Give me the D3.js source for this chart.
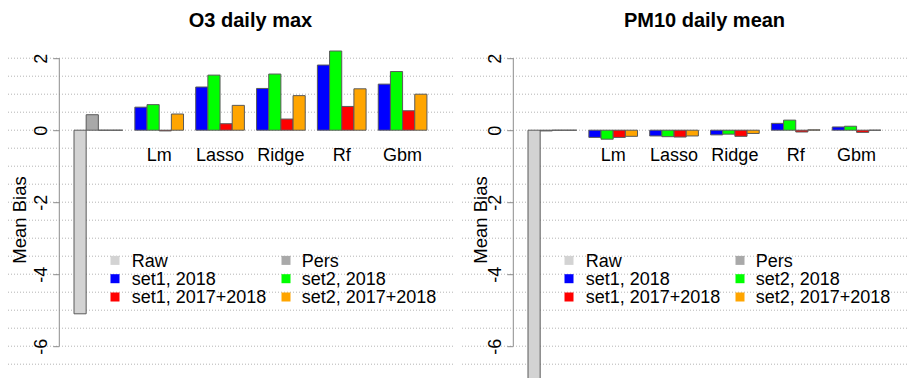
<!DOCTYPE html>
<html>
<head>
<meta charset="utf-8">
<script src="https://cdn.jsdelivr.net/npm/d3@7"></script>
<style>
  html, body { margin: 0; padding: 0; background: #ffffff; }
  svg { display: block; }
  text { font-family: "Liberation Sans", Arial, Helvetica, sans-serif; fill: #000; }
</style>
</head>
<body>
<div id="chart"></div>
<script>
// Group labels (first group holds the Raw / Pers reference bars)
const groups = ["", "Lm", "Lasso", "Ridge", "Rf", "Gbm"];

// Legend entries, in legend order (two columns)
const legendLabels = ["Raw", "Pers", "set1, 2018", "set2, 2018", "set1, 2017+2018", "set2, 2017+2018"];
const legendColors = ["#d3d3d3", "#a9a9a9", "#0000ff", "#00ff00", "#ff0000", "#ffa500"];

// Bar colours within a model group
const modelSeries = ["set1, 2018", "set2, 2018", "set1, 2017+2018", "set2, 2017+2018"];
const modelColors = ["#0000ff", "#00ff00", "#ff0000", "#ffa500"];
const refColors = ["#d3d3d3", "#a9a9a9", "#ffffff", "#ffffff"];

// Y axis ticks
const yTicks = [2, 0, -2, -4, -6];

// O3 daily max: Raw, Pers (+ two empty slots)
const o3Reference = [-5.10, 0.43, 0, 0];
const o3Set1_2018 = [0.64, 1.20, 1.16, 1.81, 1.28];
const o3Set2_2018 = [0.71, 1.53, 1.56, 2.20, 1.63];
const o3Set1_2017_2018 = [-0.02, 0.18, 0.31, 0.66, 0.54];
const o3Set2_2017_2018 = [0.45, 0.69, 0.96, 1.15, 1.00];

// PM10 daily mean
const pmReference = [-7.40, -0.02, 0, 0];
const pmSet1_2018 = [-0.20, -0.16, -0.13, 0.19, 0.09];
const pmSet2_2018 = [-0.25, -0.18, -0.11, 0.28, 0.11];
const pmSet1_2017_2018 = [-0.20, -0.19, -0.17, -0.05, -0.06];
const pmSet2_2017_2018 = [-0.17, -0.16, -0.09, 0.01, 0.00];

const panels = [
  { title: "O3 daily max", offset: 0, ylabX: 20,
    reference: o3Reference,
    models: [o3Set1_2018, o3Set2_2018, o3Set1_2017_2018, o3Set2_2017_2018] },
  { title: "PM10 daily mean", offset: 454, ylabX: 27,
    reference: pmReference,
    models: [pmSet1_2018, pmSet2_2018, pmSet1_2017_2018, pmSet2_2017_2018] }
];

const W = 907, H = 378;
const svg = d3.select("#chart").append("svg")
  .attr("width", W).attr("height", H)
  .attr("viewBox", `0 0 ${W} ${H}`);
svg.append("rect").attr("width", W).attr("height", H).attr("fill", "#ffffff");

// Shared scales
const y = d3.scaleLinear().domain([-6, 2]).range([346.2, 58.2]);
const slotsPerGroup = 5;               // 4 bars + 1 bar-width gap
const x = d3.scaleLinear().domain([0, 29]).range([74, 74 + 29 * 12.17]);
const barW = x(1) - x(0);
const axisX = 59.3;
const gridValues = d3.range(2, -6.51, -0.5);

function barPath(x0, v) {
  const y0 = y(0), y1 = y(v);
  return `M${x0},${y0}H${x0 + barW}V${y1}H${x0}Z`;
}

panels.forEach(p => {
  const g = svg.append("g").attr("transform", `translate(${p.offset},0)`);

  // dotted horizontal grid
  g.append("g").selectAll("line").data(gridValues).join("line")
    .attr("x1", 8).attr("x2", 453)
    .attr("y1", d => y(d)).attr("y2", d => y(d))
    .attr("stroke", "#b4b4b4").attr("stroke-width", 1)
    .attr("stroke-dasharray", "1,2");

  // bars: build a flat list of {slot, value, color}
  const bars = [];
  p.reference.forEach((v, j) => bars.push({ slot: j, value: v, color: refColors[j] }));
  p.models.forEach((series, j) => {
    series.forEach((v, i) => bars.push({ slot: (i + 1) * slotsPerGroup + j, value: v, color: modelColors[j] }));
  });
  g.append("g").selectAll("path").data(bars).join("path")
    .attr("d", d => barPath(x(d.slot), d.value))
    .attr("fill", d => d.color)
    .attr("stroke", "#5a5a5a").attr("stroke-width", 1);

  // group labels
  g.append("g").selectAll("text").data(groups.slice(1)).join("text")
    .attr("x", (d, i) => x((i + 1) * slotsPerGroup) + 2 * barW)
    .attr("y", 161)
    .attr("text-anchor", "middle")
    .attr("font-size", 18)
    .text(d => d);

  // y axis
  const ax = g.append("g").attr("transform", `translate(${axisX},0)`);
  ax.call(d3.axisLeft(y).tickValues(yTicks).tickSize(6).tickFormat(""));
  ax.select(".domain").attr("d", `M0,${y(2)}V${y(-6)}`).attr("stroke", "#8c8c8c");
  ax.selectAll(".tick line").attr("stroke", "#8c8c8c");
  ax.selectAll(".tick").append("text")
    .attr("transform", "rotate(-90)")
    .attr("x", 0).attr("y", -19)
    .attr("dy", "0.35em")
    .attr("text-anchor", "middle")
    .attr("font-size", 18)
    .attr("fill", "#000")
    .text(d => d3.format("d")(d).replace("−", "-"));

  // y label
  g.append("text")
    .attr("transform", `translate(${p.ylabX},220) rotate(-90)`)
    .attr("dy", "0.35em")
    .attr("text-anchor", "middle")
    .attr("font-size", 18.5)
    .text("Mean Bias");

  // title
  g.append("text")
    .attr("x", 250.5).attr("y", 27)
    .attr("text-anchor", "middle")
    .attr("font-size", 20).attr("font-weight", "bold")
    .text(p.title);

  // legend (two columns, three rows)
  const leg = g.append("g");
  const items = legendLabels.map((l, i) => ({ label: l, color: legendColors[i], col: i % 2, row: Math.floor(i / 2) }));
  const colSq = [115, 286], colTx = [131.7, 301.7];
  const rowY = d => 260.4 + d * 18.3;
  leg.selectAll("rect").data(items).join("rect")
    .attr("x", d => colSq[d.col] - 4.5).attr("y", d => rowY(d.row) - 4.5)
    .attr("width", 9).attr("height", 9)
    .attr("fill", d => d.color);
  leg.selectAll("text").data(items).join("text")
    .attr("x", d => colTx[d.col]).attr("y", d => rowY(d.row))
    .attr("dy", "0.35em")
    .attr("font-size", 18)
    .text(d => d.label);
});
</script>
</body>
</html>
